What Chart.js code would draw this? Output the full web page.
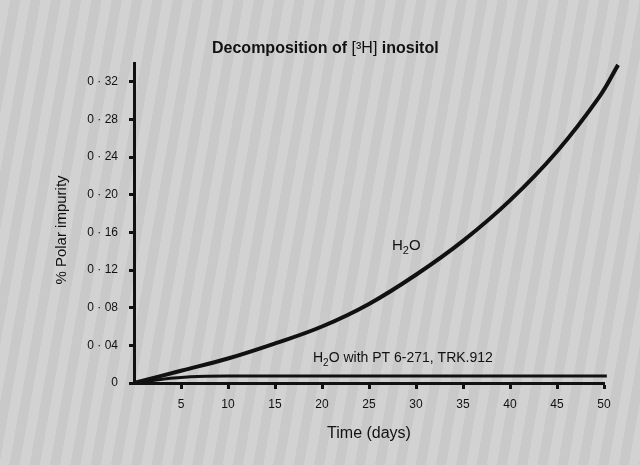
<!DOCTYPE html>
<html>
<head>
<meta charset="utf-8">
<script src="https://cdn.jsdelivr.net/npm/chart.js@4"></script>
<style>
  html, body { margin: 0; padding: 0; }
  body {
    width: 640px; height: 465px; overflow: hidden;
    background-color: #cfcfcf;
    background-image: repeating-linear-gradient(100deg, rgba(255,255,255,0.07) 0px, rgba(255,255,255,0.07) 10px, rgba(0,0,0,0.03) 10px, rgba(0,0,0,0.03) 20px);
  }
  #wrap { position: relative; width: 640px; height: 465px; }
</style>
</head>
<body>
<div id="wrap"><canvas id="impurityChart" width="640" height="465"></canvas></div>
<script>
// values
var days = [0, 5, 10, 15, 20, 25, 30, 35, 40, 45, 49.5, 51.5];
var h2oImpurity = [0, 0.013, 0.026, 0.042, 0.060, 0.084, 0.115, 0.151, 0.194, 0.246, 0.304, 0.338];
var ptDays = [0, 3, 6, 10, 20, 30, 40, 50.3];
var ptImpurity = [0, 0.004, 0.0066, 0.0074, 0.0075, 0.0075, 0.0075, 0.0075];
var yTicks = [0, 0.04, 0.08, 0.12, 0.16, 0.20, 0.24, 0.28, 0.32];
var xTicks = [5, 10, 15, 20, 25, 30, 35, 40, 45, 50];

var font = '"Liberation Sans", Arial, Helvetica, sans-serif';
var ink = '#111';

function pts(xs, ys) {
    return xs.map(function(x, i) { return { x: x, y: ys[i] }; });
}

// title, y title and in-plot labels
var textPlugin = {
    id: 'texts',
    afterDraw: function(chart) {
        var ctx = chart.ctx;
        ctx.save();
        ctx.fillStyle = ink;
        ctx.textBaseline = 'alphabetic';

        // title: bold parts with a plain [3H]
        var parts = [['bold 16px ' + font, 'Decomposition of '], ['16px ' + font, '[³H]'], ['bold 16px ' + font, ' inositol']];
        var total = 0;
        parts.forEach(function(p) { ctx.font = p[0]; total += ctx.measureText(p[1]).width; });
        var sx = Math.min(1, 263 / total);
        var x = 212;
        parts.forEach(function(p) {
            ctx.font = p[0];
            var w = ctx.measureText(p[1]).width * sx;
            ctx.fillText(p[1], x, 53, w);
            x += w;
        });

        // y axis title
        ctx.save();
        ctx.translate(62, 230);
        ctx.rotate(-Math.PI / 2);
        ctx.font = '15px ' + font;
        ctx.textAlign = 'center';
        ctx.textBaseline = 'middle';
        ctx.fillText('% Polar impurity', 0, 0, 114);
        ctx.restore();

        // H2O label near the curve
        drawH2O(ctx, 392, 250, 15, 33);

        // label above the flat line
        var lx = 313;
        var ly = 362;
        var w1 = drawH2O(ctx, lx, ly, 14, 31);
        ctx.font = '14px ' + font;
        ctx.fillText(' with PT 6-271, TRK.912', lx + w1, ly, 200 - w1);
        ctx.restore();
    }
};

function drawH2O(ctx, x, y, size, width) {
    ctx.font = size + 'px ' + font;
    var wH = ctx.measureText('H').width;
    ctx.font = Math.round(size * 0.7) + 'px ' + font;
    var w2 = ctx.measureText('2').width;
    ctx.font = size + 'px ' + font;
    var wO = ctx.measureText('O').width;
    var k = Math.min(1, width / (wH + w2 + wO));
    ctx.fillText('H', x, y, wH * k);
    ctx.font = Math.round(size * 0.7) + 'px ' + font;
    ctx.fillText('2', x + wH * k, y + size * 0.28, w2 * k);
    ctx.font = size + 'px ' + font;
    ctx.fillText('O', x + (wH + w2) * k, y, wO * k);
    return (wH + w2 + wO) * k;
}

var ctx = document.getElementById('impurityChart').getContext('2d');
var chart = new Chart(ctx, {
    type: 'line',
    data: {
        datasets: [{
            label: 'H2O',
            data: pts(days, h2oImpurity),
            borderColor: ink,
            borderWidth: 4,
            pointRadius: 0,
            fill: false,
            tension: 0.4,
            clip: false
        }, {
            label: 'H2O with PT 6-271, TRK.912',
            data: pts(ptDays, ptImpurity),
            borderColor: ink,
            borderWidth: 3,
            pointRadius: 0,
            fill: false,
            cubicInterpolationMode: 'monotone',
            clip: false
        }]
    },
    options: {
        responsive: false,
        animation: false,
        events: [],
        layout: { padding: { top: 63, right: 36, left: 0, bottom: 0 } },
        plugins: {
            legend: { display: false },
            title: { display: false },
            tooltip: { enabled: false }
        },
        scales: {
            x: {
                type: 'linear',
                min: 0,
                max: 50,
                afterBuildTicks: function(s) { s.ticks = xTicks.map(function(v) { return { value: v }; }); },
                afterFit: function(s) { s.height = 82; },
                border: { color: ink, width: 3 },
                grid: { drawOnChartArea: false, drawTicks: true, tickLength: 6, tickWidth: 3, tickColor: ink },
                ticks: {
                    color: ink,
                    font: { family: font, size: 12 },
                    padding: 8,
                    maxRotation: 0,
                    callback: function(v) { return String(v); }
                },
                title: {
                    display: true,
                    text: 'Time (days)',
                    color: ink,
                    font: { family: font, size: 16 },
                    padding: { top: 4, bottom: 22 }
                }
            },
            y: {
                type: 'linear',
                min: 0,
                max: 0.34,
                afterBuildTicks: function(s) { s.ticks = yTicks.map(function(v) { return { value: v }; }); },
                afterFit: function(s) { s.width = 134; },
                border: { color: ink, width: 3 },
                grid: { drawOnChartArea: false, drawTicks: true, tickLength: 5, tickWidth: 3, tickColor: ink },
                ticks: {
                    color: ink,
                    font: { family: font, size: 12 },
                    padding: 11,
                    callback: function(v) {
                        if (v === 0) return '0';
                        return v.toFixed(2).replace('.', ' · ');
                    }
                }
            }
        }
    },
    plugins: [textPlugin]
});
</script>
</body>
</html>
